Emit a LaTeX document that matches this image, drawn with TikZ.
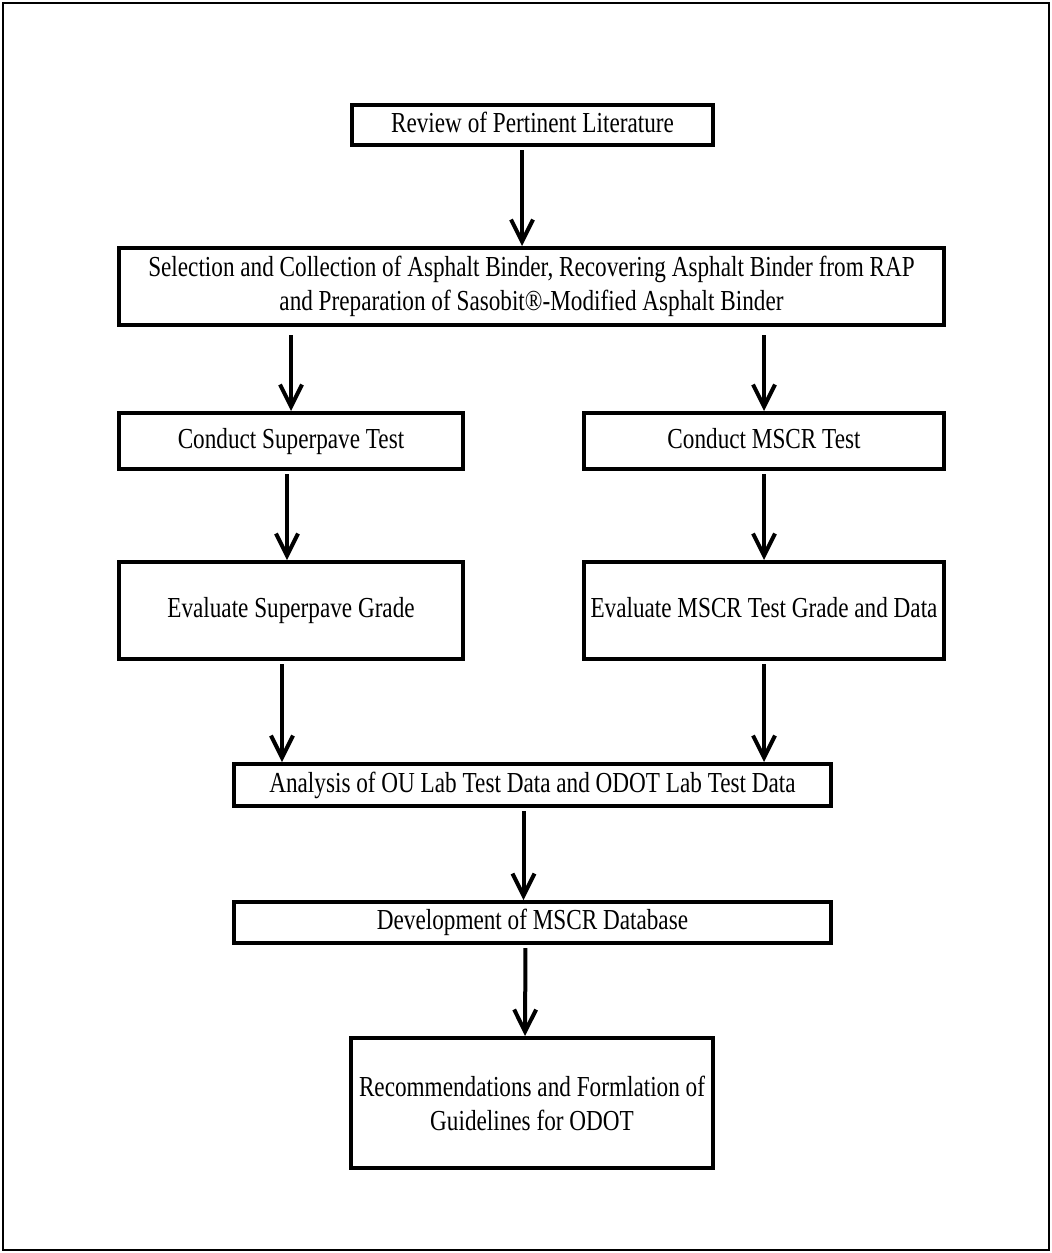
\documentclass[tikz,border=0pt]{standalone}
\usepackage{fontspec}
\setmainfont[FakeStretch=0.8]{Liberation Serif}
\usepackage{tikz}
\usetikzlibrary{arrows.meta}
\tikzset{stage/.style={draw,rectangle,line width=2pt,inner xsep=1pt,align=center,
	font=\fontsize{14.5}{17}\selectfont},
    oneline/.style={text height=10pt,text depth=3pt},
    flow/.style={line width=2pt,-{Straight Barb[length=11pt,width=11pt]},shorten <=1.5pt},
    x=0.5pt,y=-0.5pt}

\begin{document}
\begin{tikzpicture}
	\useasboundingbox (0,0) rectangle (1052,1253);
	\draw[line width=0.75pt] (3,3) rectangle (1049,1250);
	% boxes
	\node[stage,oneline,minimum width=180.5pt,minimum height=20pt] (review) at (532.5,125)
		{Review of Pertinent Literature};
	\node[stage,minimum width=412.5pt,minimum height=38.5pt] (select) at (531.5,286.5)
		{Selection and Collection of Asphalt Binder, Recovering Asphalt Binder from RAP\\
		and Preparation of Sasobit®-Modified Asphalt Binder};
	\node[stage,oneline,minimum width=172pt,minimum height=28pt] (superpave) at (291,441)
		{Conduct Superpave Test};
	\node[stage,oneline,minimum width=180pt,minimum height=28pt] (mscr) at (764,441)
		{Conduct MSCR Test};
	\node[stage,oneline,minimum width=172pt,minimum height=48.5pt] (spgrade) at (291,610.5)
		{Evaluate Superpave Grade};
	\node[stage,oneline,minimum width=180pt,minimum height=48.5pt] (mscrgrade) at (764,610.5)
		{Evaluate MSCR Test Grade and Data};
	\node[stage,oneline,minimum width=298.5pt,minimum height=21pt] (analysis) at (532.5,785)
		{Analysis of OU Lab Test Data and ODOT Lab Test Data};
	\node[stage,oneline,minimum width=298.5pt,minimum height=20.5pt] (database) at (532.5,922.5)
		{Development of MSCR Database};
	\node[stage,minimum width=181pt,minimum height=65pt] (guide) at (532,1103)
		{Recommendations and Formlation of\\ Guidelines for ODOT};
	% arrows
	\draw[flow] ([xshift=-5.25pt]review.south) -- ([xshift=-5.25pt]review.south |- select.north);
	\draw[flow,shorten <=4pt] (superpave.north |- select.south) -- (superpave.north);
	\draw[flow,shorten <=4pt] (mscr.north |- select.south) -- (mscr.north);
	\draw[flow] ([xshift=-2pt]superpave.south) -- ([xshift=-2pt]spgrade.north);
	\draw[flow] (mscr.south) -- (mscrgrade.north);
	\draw[flow] ([xshift=-4.5pt]spgrade.south) -- ([xshift=-4.5pt]spgrade.south |- analysis.north);
	\draw[flow] (mscrgrade.south) -- (mscrgrade.south |- analysis.north);
	\draw[flow] ([xshift=-4.5pt]analysis.south) -- ([xshift=-4.5pt]database.north);
	\draw[flow] ([xshift=-3.5pt]database.south) -- ([xshift=-3.5pt]guide.north);
\end{tikzpicture}
\end{document}
